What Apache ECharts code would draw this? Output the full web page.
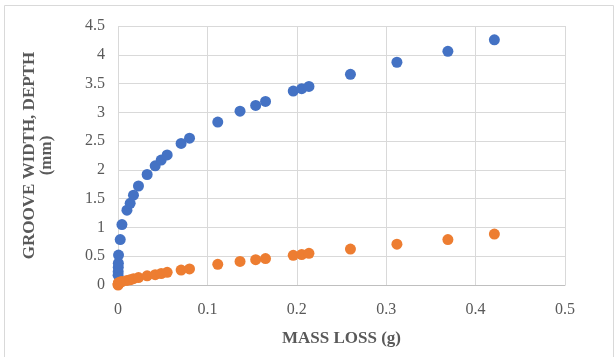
<!DOCTYPE html>
<html>
<head>
<meta charset="utf-8">
<script src="https://cdn.jsdelivr.net/npm/echarts@6/dist/echarts.min.js"></script>
<style>
  html, body { margin: 0; padding: 0; background: #fff; }
  #chart { width: 615px; height: 357px; }
</style>
</head>
<body>
<div id="chart"></div>
<script>
// mass loss (g), shared by both series
const massLoss = [0.0001, 0.0002, 0.0003, 0.0004, 0.0006, 0.0025, 0.0044, 0.010, 0.0136, 0.0173, 0.0229,
  0.0326, 0.0416, 0.0483, 0.055, 0.0706, 0.080, 0.1116, 0.1365, 0.154, 0.165,
  0.196, 0.2055, 0.2136, 0.260, 0.312, 0.369, 0.421];
// groove width (mm)
const grooveWidth = [0.17, 0.23, 0.31, 0.38, 0.52, 0.79, 1.05, 1.30, 1.42, 1.56, 1.72,
  1.92, 2.07, 2.17, 2.26, 2.46, 2.55, 2.83, 3.02, 3.12, 3.19,
  3.37, 3.41, 3.45, 3.66, 3.87, 4.06, 4.26];
// groove depth (mm)
const grooveDepth = [0.0, 0.01, 0.02, 0.03, 0.04, 0.05, 0.06, 0.08, 0.09, 0.11, 0.13,
  0.16, 0.18, 0.20, 0.22, 0.26, 0.28, 0.36, 0.41, 0.44, 0.46,
  0.515, 0.53, 0.55, 0.625, 0.71, 0.79, 0.885];
const xTicks = [0, 0.1, 0.2, 0.3, 0.4, 0.5];
const yTicks = [0, 0.5, 1, 1.5, 2, 2.5, 3, 3.5, 4, 4.5];

const pair = (xs, ys) => xs.map((x, i) => [x, ys[i]]);

const serif = '"Liberation Serif", "DejaVu Serif", serif';
const myChart = echarts.init(document.getElementById('chart'));
myChart.setOption({
  animation: false,
  grid: { left: 118, right: 50, top: 26, bottom: 72 },
  graphic: [{
    type: 'rect',
    shape: { x: 4.5, y: 5.5, width: 609, height: 400 },
    style: { fill: 'none', stroke: '#d9d9d9', lineWidth: 1 },
    silent: true
  }],
  xAxis: {
    type: 'value',
    min: xTicks[0], max: xTicks[xTicks.length - 1], interval: 0.1,
    name: 'MASS LOSS (g)', nameLocation: 'middle', nameGap: 45,
    nameTextStyle: { fontFamily: serif, fontWeight: 'bold', fontSize: 17, color: '#595959' },
    axisLine: { show: true, lineStyle: { color: '#bfbfbf' } },
    axisTick: { show: false },
    axisLabel: { fontFamily: serif, fontSize: 16, color: '#595959', margin: 17 },
    splitLine: { show: true, lineStyle: { color: '#d9d9d9' } }
  },
  yAxis: {
    type: 'value',
    min: yTicks[0], max: yTicks[yTicks.length - 1], interval: 0.5,
    name: 'GROOVE WIDTH, DEPTH\n(mm)', nameLocation: 'middle', nameGap: 63,
    nameTextStyle: { fontFamily: serif, fontWeight: 'bold', fontSize: 17, color: '#595959', lineHeight: 17 },
    axisLine: { show: false },
    axisTick: { show: false },
    axisLabel: { fontFamily: serif, fontSize: 16, color: '#595959', margin: 13 },
    splitLine: { show: true, lineStyle: { color: '#d9d9d9' } }
  },
  series: [{
    name: 'Width',
    type: 'scatter',
    symbolSize: 11,
    itemStyle: { color: '#4472c4', opacity: 1 },
    data: pair(massLoss, grooveWidth)
  }, {
    name: 'Depth',
    type: 'scatter',
    symbolSize: 11,
    itemStyle: { color: '#ed7d31', opacity: 1 },
    data: pair(massLoss, grooveDepth)
  }]
});
</script>
</body>
</html>
